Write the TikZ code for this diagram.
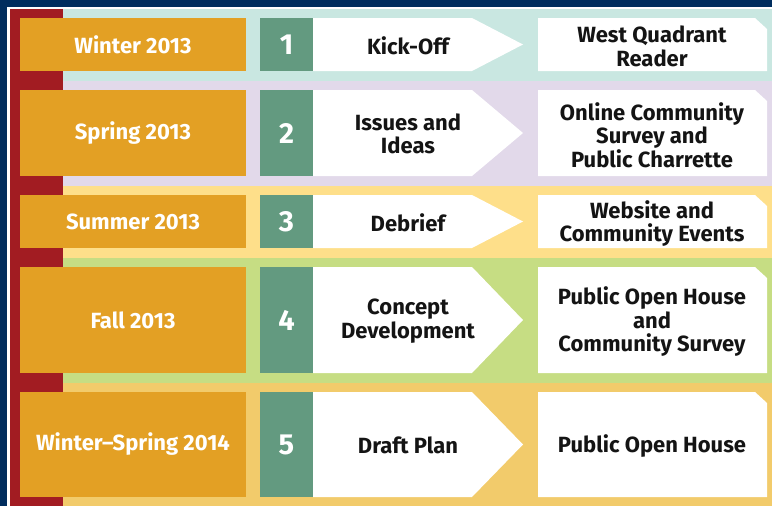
\documentclass[tikz,border=0pt]{standalone}
\usepackage{fontspec}
\setmainfont{Fira Sans}
\definecolor{navy}{HTML}{002D5E}
\definecolor{redbar}{HTML}{A21C22}
\definecolor{seasonorange}{HTML}{E3A024}
\definecolor{numgreen}{HTML}{639A80}
\definecolor{bandteal}{HTML}{C9E7E1}
\definecolor{bandpurple}{HTML}{E2D9EA}
\definecolor{bandyellow}{HTML}{FEDF8A}
\definecolor{bandgreen}{HTML}{C6DD83}
\definecolor{bandorange}{HTML}{F2CB6B}
\definecolor{inktext}{HTML}{141414}
\tikzset{
  boxbase/.style={anchor=north west, inner sep=0pt, outer sep=0pt},
  seasonbox/.style={boxbase, fill=seasonorange, text=white, minimum width=226pt,
    font=\bfseries\fontsize{22}{23.5}\selectfont},
  numbox/.style={boxbase, fill=numgreen, text=white, minimum width=53pt,
    font=\bfseries\fontsize{29}{30}\selectfont},
  phasetext/.style={inner sep=0pt, align=center, text=inktext,
    font=\bfseries\fontsize{22}{23.5}\selectfont},
  whiteshape/.style={fill=white},
}
\newcommand\phaserow[7]{%
  \node[seasonbox, minimum height={(#3-#2)*1pt}] (s#1) at (20,#2) {#4};
  \node[numbox, minimum height={(#3-#2)*1pt}] (n#1) at (260,#2) {#5};
  \fill[whiteshape] (313,#2) -- (472,#2) -- (523,{(#2+#3)/2}) -- (472,#3) -- (313,#3) -- cycle;
  \node[phasetext] (p#1) at (408,{(#2+#3)/2+1}) {#6};
  \fill[whiteshape] (538,#2) -- (755,#2) -- (767,{#2+11}) -- (767,#3) -- (538,#3) -- cycle;
  \node[phasetext] (a#1) at (652,{(#2+#3)/2+2}) {#7};
}
\begin{document}
\begin{tikzpicture}[x=1pt,y=-1pt]
\useasboundingbox (0,0) rectangle (772,506);
\fill[white] (0,0) rectangle (772,506);
\fill[navy] (0,0) rectangle (772,7);
\fill[navy] (0,0) rectangle (7,506);
\fill[redbar] (10,9) rectangle (63,506);
\fill[bandteal] (63,9) rectangle (772,80.5);
\fill[bandpurple] (63,80.5) rectangle (772,185.5);
\fill[bandyellow] (63,185.5) rectangle (772,257.5);
\fill[bandgreen] (63,257.5) rectangle (772,382.5);
\fill[bandorange] (63,382.5) rectangle (772,506);
\phaserow{1}{18}{71}{Winter 2013}{1}{Kick-Off}{West Quadrant\\Reader}
\phaserow{2}{90}{176}{Spring 2013}{2}{Issues and\\Ideas}{Online Community\\Survey and\\Public Charrette}
\phaserow{3}{195}{248}{Summer 2013}{3}{Debrief}{Website and\\Community Events}
\phaserow{4}{267}{373}{Fall 2013}{4}{Concept\\Development}{Public Open House\\and\\Community Survey}
\phaserow{5}{392}{497}{Winter–Spring 2014}{5}{Draft Plan}{Public Open House}
\end{tikzpicture}
\end{document}
